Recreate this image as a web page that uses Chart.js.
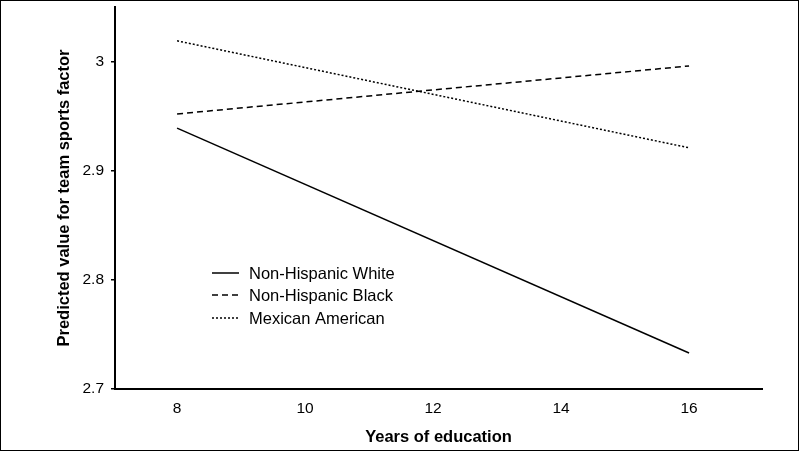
<!DOCTYPE html>
<html>
<head>
<meta charset="utf-8">
<script src="https://cdn.jsdelivr.net/npm/chart.js@4"></script>
<style>
    html, body { margin: 0; padding: 0; background: #fff; }
    .frame { width: 799px; height: 451px; box-sizing: border-box; border: 1px solid #000; }
</style>
</head>
<body>
<div class="frame"><canvas id="chart" width="797" height="449"></canvas></div>
<script>
// Data
const years = [8, 16];
const whiteValues = [2.939, 2.733];
const blackValues = [2.952, 2.996];
const mexicanValues = [3.019, 2.921];
const xTicks = [8, 10, 12, 14, 16];
const yTicks = [2.7, 2.8, 2.9, 3];

const FONT = '"Liberation Sans", Arial, sans-serif';

function toPoints(values) {
    return years.map((x, i) => ({ x: x, y: values[i] }));
}

// Legend drawn inside the plot area
const innerLegend = {
    id: 'innerLegend',
    afterDraw(chart) {
        const ctx = chart.ctx;
        const x0 = 211, x1 = 238, tx = 248;
        const rows = [272, 294, 317];
        ctx.save();
        ctx.font = '16.5px ' + FONT;
        ctx.fillStyle = '#000';
        ctx.textBaseline = 'middle';
        chart.data.datasets.forEach((ds, i) => {
            ctx.beginPath();
            ctx.lineWidth = 1.5;
            ctx.strokeStyle = '#000';
            ctx.setLineDash(ds.borderDash || []);
            ctx.moveTo(x0, rows[i]);
            ctx.lineTo(x1, rows[i]);
            ctx.stroke();
            ctx.setLineDash([]);
            ctx.fillText(ds.label, tx, rows[i] + 1);
        });
        ctx.restore();
    }
};

const ctx = document.getElementById('chart').getContext('2d');
new Chart(ctx, {
    type: 'line',
    data: {
        datasets: [
            { label: 'Non-Hispanic White', data: toPoints(whiteValues), borderDash: [] },
            { label: 'Non-Hispanic Black', data: toPoints(blackValues), borderDash: [6, 4] },
            { label: 'Mexican American', data: toPoints(mexicanValues), borderDash: [2, 2] }
        ]
    },
    options: {
        responsive: false,
        animation: false,
        layout: { padding: { top: 6, right: 36, left: 0, bottom: 0 } },
        elements: {
            line: { borderColor: '#000', borderWidth: 1.5, tension: 0 },
            point: { radius: 0 }
        },
        plugins: {
            legend: { display: false },
            tooltip: { enabled: false }
        },
        scales: {
            x: {
                type: 'linear',
                min: 7.03,
                max: 17.14,
                afterBuildTicks: scale => { scale.ticks = xTicks.map(v => ({ value: v })); },
                afterFit: scale => { scale.height = 61; },
                grid: { display: false },
                border: { display: true, color: '#000', width: 2 },
                ticks: {
                    color: '#000',
                    padding: 2,
                    font: { family: FONT, size: 15.5 }
                },
                title: {
                    display: true,
                    text: 'Years of education',
                    color: '#000',
                    padding: { top: 0, bottom: 2.5 },
                    font: { family: FONT, size: 16.5, weight: 'bold' }
                }
            },
            y: {
                min: 2.7,
                max: 3.05,
                afterBuildTicks: scale => { scale.ticks = yTicks.map(v => ({ value: v })); },
                afterFit: scale => {
                    scale.width = 114;
                    scale.paddingTop = 0;
                    scale.paddingBottom = 0;
                },
                grid: {
                    display: true,
                    drawOnChartArea: false,
                    drawTicks: true,
                    tickLength: 4,
                    color: '#000',
                    lineWidth: 1.5
                },
                border: { display: true, color: '#000', width: 2 },
                ticks: {
                    color: '#000',
                    padding: 7,
                    font: { family: FONT, size: 15.5 },
                    callback: v => String(v)
                },
                title: {
                    display: true,
                    text: 'Predicted value for team sports factor',
                    color: '#000',
                    padding: { top: 54, bottom: 0 },
                    font: { family: FONT, size: 16.5, weight: 'bold' }
                }
            }
        }
    },
    plugins: [innerLegend]
});
</script>
</body>
</html>
